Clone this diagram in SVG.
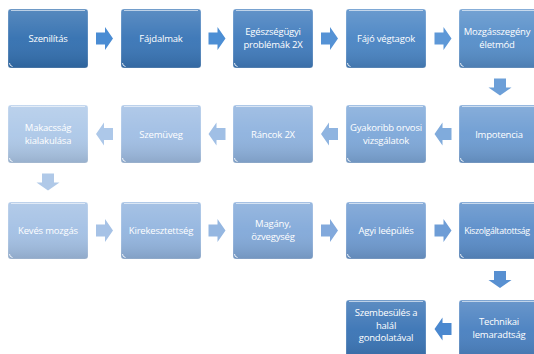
<svg xmlns="http://www.w3.org/2000/svg" width="534" height="354" viewBox="0 0 534 354">
<defs>
<linearGradient id="shade" x1="0" y1="0" x2="0" y2="1">
<stop offset="0" stop-color="#ffffff" stop-opacity="0.18"/>
<stop offset="0.5" stop-color="#ffffff" stop-opacity="0.04"/>
<stop offset="1" stop-color="#000000" stop-opacity="0.12"/>
</linearGradient>
<path id="ar" d="M-8.5,-6 H0.5 V-11.5 L8.5,0 L0.5,11.5 V6 H-8.5 Z"/>
</defs>
<style>
.box{stroke:#ffffff;stroke-opacity:0.35;stroke-width:0.8}
.sh{fill:url(#shade)}
.hl{fill:none;stroke:#ffffff;stroke-opacity:0.6;stroke-width:1.2}
.cm{fill:none;stroke:#ffffff;stroke-width:1;stroke-opacity:0.85}
text{font-family:"Open Sans","Liberation Sans",sans-serif;font-size:9.5px;letter-spacing:-0.2px;fill:#ffffff;text-anchor:middle}
</style>
<rect width="534" height="354" fill="#ffffff"/>
<g id="connectors">
<use href="#ar" transform="translate(104.5,38.5)" fill="#4a8cd3"/>
<use href="#ar" transform="translate(217,38.5)" fill="#4c8ed4"/>
<use href="#ar" transform="translate(329.5,38.5)" fill="#5592d5"/>
<use href="#ar" transform="translate(443,38.5)" fill="#5e98d7"/>
<use href="#ar" transform="translate(500,87) rotate(90)" fill="#6c9fd8"/>
<use href="#ar" transform="translate(443,134) rotate(180)" fill="#80abdc"/>
<use href="#ar" transform="translate(329.5,134) rotate(180)" fill="#8fb4e0"/>
<use href="#ar" transform="translate(217,134) rotate(180)" fill="#a0bfe5"/>
<use href="#ar" transform="translate(104.5,134) rotate(180)" fill="#adc8e9"/>
<use href="#ar" transform="translate(48,182) rotate(90)" fill="#b0c9e8"/>
<use href="#ar" transform="translate(104.5,230.5)" fill="#a6c2e6"/>
<use href="#ar" transform="translate(217,230.5)" fill="#95b7e1"/>
<use href="#ar" transform="translate(329.5,230.5)" fill="#82a9dc"/>
<use href="#ar" transform="translate(443,230.5)" fill="#6e9dd6"/>
<use href="#ar" transform="translate(500,279.5) rotate(90)" fill="#5890d1"/>
<use href="#ar" transform="translate(443,329) rotate(180)" fill="#4a88cf"/>
</g>
<g id="n1"><rect class="box" x="8" y="9" width="80" height="59" rx="3" fill="#3370b0"/><rect class="sh" x="8" y="9" width="80" height="59" rx="3"/><path class="hl" d="M11,10.5 H85"/><path class="cm" d="M9.5,63 q0,3 3,3.5"/><text x="48" y="42">Szenilítás</text></g>
<g id="n2"><rect class="box" x="121" y="9" width="80" height="59" rx="3" fill="#3975b6"/><rect class="sh" x="121" y="9" width="80" height="59" rx="3"/><path class="hl" d="M124,10.5 H198"/><path class="cm" d="M122.5,63 q0,3 3,3.5"/><text x="161" y="42">Fájdalmak</text></g>
<g id="n3"><rect class="box" x="233" y="9" width="80" height="59" rx="3" fill="#417cbd"/><rect class="sh" x="233" y="9" width="80" height="59" rx="3"/><path class="hl" d="M236,10.5 H310"/><path class="cm" d="M234.5,63 q0,3 3,3.5"/><text x="273" y="35">Egészségügyi</text><text x="273" y="48">problémák 2X</text></g>
<g id="n4"><rect class="box" x="346" y="9" width="80" height="59" rx="3" fill="#4a85c4"/><rect class="sh" x="346" y="9" width="80" height="59" rx="3"/><path class="hl" d="M349,10.5 H423"/><path class="cm" d="M347.5,63 q0,3 3,3.5"/><text x="386" y="42">Fájó végtagok</text></g>
<g id="n5"><rect class="box" x="459" y="9" width="82" height="59" rx="3" fill="#568ec9"/><rect class="sh" x="459" y="9" width="82" height="59" rx="3"/><path class="hl" d="M462,10.5 H538"/><path class="cm" d="M460.5,63 q0,3 3,3.5"/><text x="497" y="35">Mozgásszegény</text><text x="497" y="48">életmód</text></g>
<g id="n6"><rect class="box" x="459" y="105" width="82" height="58" rx="3" fill="#6d9cd2"/><rect class="sh" x="459" y="105" width="82" height="58" rx="3"/><path class="hl" d="M462,106.5 H538"/><path class="cm" d="M460.5,158 q0,3 3,3.5"/><text x="499" y="138">Impotencia</text></g>
<g id="n7"><rect class="box" x="346" y="105" width="80" height="58" rx="3" fill="#7ea8d9"/><rect class="sh" x="346" y="105" width="80" height="58" rx="3"/><path class="hl" d="M349,106.5 H423"/><path class="cm" d="M347.5,158 q0,3 3,3.5"/><text x="386" y="131">Gyakoribb orvosi</text><text x="386" y="144">vizsgálatok</text></g>
<g id="n8"><rect class="box" x="233" y="105" width="80" height="58" rx="3" fill="#8eb2de"/><rect class="sh" x="233" y="105" width="80" height="58" rx="3"/><path class="hl" d="M236,106.5 H310"/><path class="cm" d="M234.5,158 q0,3 3,3.5"/><text x="273" y="138">Ráncok 2X</text></g>
<g id="n9"><rect class="box" x="121" y="105" width="80" height="58" rx="3" fill="#a0bee4"/><rect class="sh" x="121" y="105" width="80" height="58" rx="3"/><path class="hl" d="M124,106.5 H198"/><path class="cm" d="M122.5,158 q0,3 3,3.5"/><text x="161" y="138">Szemüveg</text></g>
<g id="n10"><rect class="box" x="8" y="105" width="80" height="58" rx="3" fill="#adc8e8"/><rect class="sh" x="8" y="105" width="80" height="58" rx="3"/><path class="hl" d="M11,106.5 H85"/><path class="cm" d="M9.5,158 q0,3 3,3.5"/><text x="48" y="131">Makacsság</text><text x="48" y="144">kialakulása</text></g>
<g id="n11"><rect class="box" x="8" y="202" width="80" height="57" rx="3" fill="#a3c0e4"/><rect class="sh" x="8" y="202" width="80" height="57" rx="3"/><path class="hl" d="M11,203.5 H85"/><path class="cm" d="M9.5,254 q0,3 3,3.5"/><text x="48" y="234">Kevés mozgás</text></g>
<g id="n12"><rect class="box" x="121" y="202" width="80" height="57" rx="3" fill="#93b5df"/><rect class="sh" x="121" y="202" width="80" height="57" rx="3"/><path class="hl" d="M124,203.5 H198"/><path class="cm" d="M122.5,254 q0,3 3,3.5"/><text x="161" y="234">Kirekesztettség</text></g>
<g id="n13"><rect class="box" x="233" y="202" width="80" height="57" rx="3" fill="#82a9d9"/><rect class="sh" x="233" y="202" width="80" height="57" rx="3"/><path class="hl" d="M236,203.5 H310"/><path class="cm" d="M234.5,254 q0,3 3,3.5"/><text x="273" y="227">Magány,</text><text x="273" y="240">özvegység</text></g>
<g id="n14"><rect class="box" x="346" y="202" width="80" height="57" rx="3" fill="#6f9bd1"/><rect class="sh" x="346" y="202" width="80" height="57" rx="3"/><path class="hl" d="M349,203.5 H423"/><path class="cm" d="M347.5,254 q0,3 3,3.5"/><text x="386" y="234">Agyi leépülés</text></g>
<g id="n15"><rect class="box" x="459" y="202" width="82" height="57" rx="3" fill="#5a8dc9"/><rect class="sh" x="459" y="202" width="82" height="57" rx="3"/><path class="hl" d="M462,203.5 H538"/><path class="cm" d="M460.5,254 q0,3 3,3.5"/><text x="497" y="234" style="font-size:8.8px;letter-spacing:-0.35px">Kiszolgáltatottság</text></g>
<g id="n16"><rect class="box" x="459" y="300" width="82" height="60" rx="3" fill="#4980c0"/><rect class="sh" x="459" y="300" width="82" height="60" rx="3"/><path class="hl" d="M462,301.5 H538"/><text x="499" y="325">Technikai</text><text x="499" y="338">lemaradtság</text></g>
<g id="n17"><rect class="box" x="346" y="300" width="80" height="60" rx="3" fill="#3a74b5"/><rect class="sh" x="346" y="300" width="80" height="60" rx="3"/><path class="hl" d="M349,301.5 H423"/><text x="386" y="316">Szembesülés a</text><text x="386" y="328.5">halál</text><text x="386" y="341">gondolatával</text></g>
</svg>
